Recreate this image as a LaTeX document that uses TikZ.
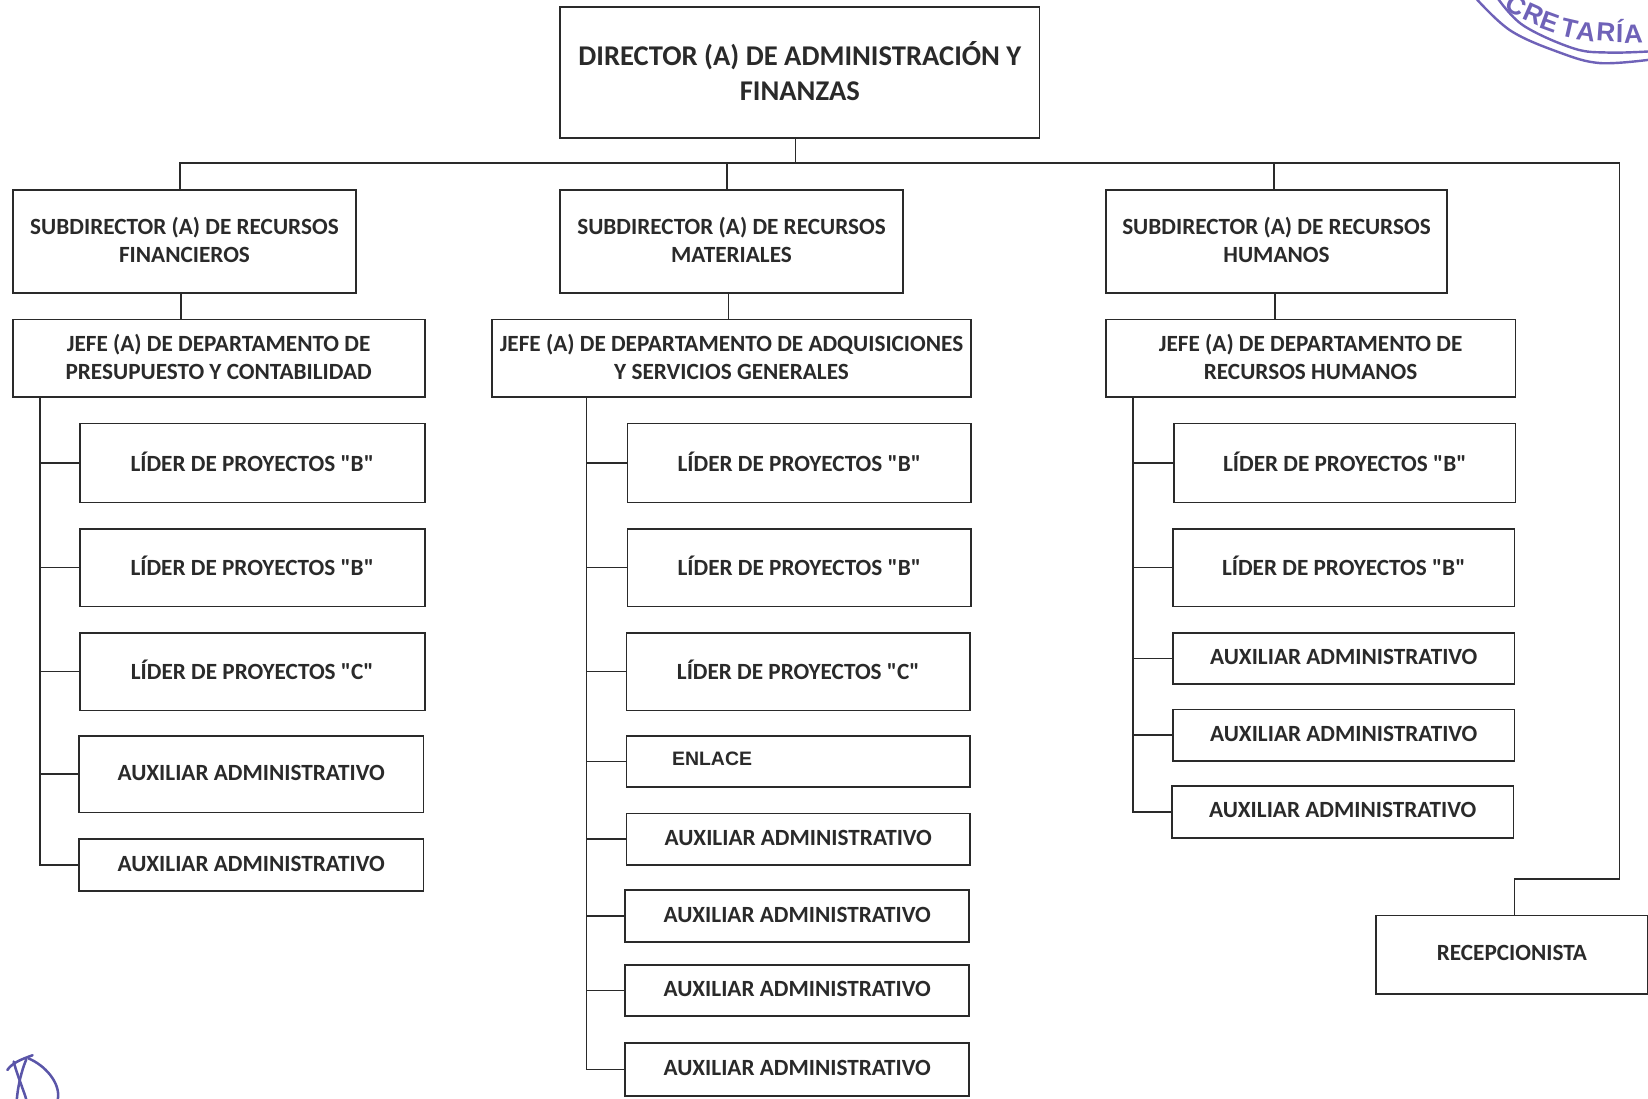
\documentclass[tikz,border=0pt]{standalone}
\usepackage{fontspec}
\newfontfamily\carl{Carlito}
\newfontfamily\arialf{Liberation Sans}
\definecolor{ink}{HTML}{2A2A2A}
\definecolor{stamp}{HTML}{6F62B8}
\definecolor{sign}{HTML}{5A55A8}
\newcommand{\bx}[6][]{% name x1 y1 x2 y2 text
  \node[orgbox,minimum width={(#5-#3)*1pt},minimum height={(#6-#4)*1pt},#1] (#2) at ({(#3+#5)/2},{(#4+#6)/2}) {\CurText};}
\newcommand{\CurText}{}
\newcommand{\mk}[7][]{\renewcommand{\CurText}{#7}\bx[#1]{#2}{#3}{#4}{#5}{#6}}
\tikzset{
  orgbox/.style={draw=ink,line width=1.7pt,fill=white,text=ink,align=center,inner sep=0pt,text depth=3pt,font=\fontsize{22.1}{27}\selectfont\carl\bfseries},
  topbox/.style={font=\fontsize{27.2}{33}\selectfont\carl\bfseries},
  link/.style={draw=ink,line width=1.6pt},
  stampline/.style={draw=stamp,line width=2.3pt},
  signline/.style={draw=sign,line width=2.4pt,line cap=round}
}
\begin{document}
\begin{tikzpicture}[x=1pt,y=-1pt]
\useasboundingbox (0,0) rectangle (1568,1045);
\clip (0,0) rectangle (1568,1045);
% top
\mk[topbox]{dir}{533}{7}{989}{131}{DIRECTOR (A) DE ADMINISTRACIÓN Y\\FINANZAS}
% subdirectors
\mk{s1}{12}{181}{339}{279}{SUBDIRECTOR (A) DE RECURSOS\\FINANCIEROS}
\mk{s2}{533}{181}{859}{279}{SUBDIRECTOR (A) DE RECURSOS\\MATERIALES}
\mk{s3}{1052}{181}{1377}{279}{SUBDIRECTOR (A) DE RECURSOS\\HUMANOS}
% jefes
\mk{j1}{12}{304}{404}{378}{JEFE (A) DE DEPARTAMENTO DE\\PRESUPUESTO Y CONTABILIDAD}
\mk{j2}{468}{304}{924}{378}{JEFE (A) DE DEPARTAMENTO DE ADQUISICIONES\\Y SERVICIOS GENERALES}
\mk{j3}{1052}{304}{1442}{378}{JEFE (A) DE DEPARTAMENTO DE\\RECURSOS HUMANOS}
% column 1
\mk{a1}{76}{403}{404}{478}{LÍDER DE PROYECTOS "B"}
\mk{a2}{76}{503}{404}{577}{LÍDER DE PROYECTOS "B"}
\mk{a3}{76}{602}{404}{676}{LÍDER DE PROYECTOS "C"}
\mk{a4}{75}{700}{403}{773}{AUXILIAR ADMINISTRATIVO}
\mk{a5}{75}{798}{403}{848}{AUXILIAR ADMINISTRATIVO}
% column 2
\mk{b1}{597}{403}{924}{478}{LÍDER DE PROYECTOS "B"}
\mk{b2}{597}{503}{924}{577}{LÍDER DE PROYECTOS "B"}
\mk{b3}{596}{602}{923}{676}{LÍDER DE PROYECTOS "C"}
\node[orgbox,minimum width=327pt,minimum height=49pt,label={[font=\fontsize{18.5}{22}\selectfont\bfseries\arialf,text=ink,xshift=-82pt,yshift=3pt]center:ENLACE}] (b4) at (759.5,724.5) {};
\mk{b5}{596}{774}{923}{823}{AUXILIAR ADMINISTRATIVO}
\mk{b6}{595}{847}{922}{896}{AUXILIAR ADMINISTRATIVO}
\mk{b7}{595}{918}{922}{967}{AUXILIAR ADMINISTRATIVO}
\mk{b8}{595}{992}{922}{1043}{AUXILIAR ADMINISTRATIVO}
% column 3
\mk{c1}{1117}{403}{1442}{478}{LÍDER DE PROYECTOS "B"}
\mk{c2}{1116}{503}{1441}{577}{LÍDER DE PROYECTOS "B"}
\mk{c3}{1116}{602}{1441}{651}{AUXILIAR ADMINISTRATIVO}
\mk{c4}{1116}{675}{1441}{724}{AUXILIAR ADMINISTRATIVO}
\mk{c5}{1115}{748}{1440}{797}{AUXILIAR ADMINISTRATIVO}
\mk{r}{1309}{871}{1568}{946}{RECEPCIONISTA}
% bus
\coordinate (busL) at (171,155);
\coordinate (busR) at (1541,155);
\coordinate (busD) at (1541,836);
\draw[link] (dir.south -| 757,0) -- (757,155);
\draw[link] (s1.north -| busL) -- (busL) -- (busR) -- (busD) -| (r.north -| 1441,0);
\draw[link] (s2.north -| 692,0) -- (692,155);
\draw[link] (s3.north -| 1212,0) -- (1212,155);
% sub to jefe
\draw[link] (s1.south -| 172,0) -- (j1.north -| 172,0);
\draw[link] (s2.south -| 693,0) -- (j2.north -| 693,0);
\draw[link] (s3.south -| 1213,0) -- (j3.north -| 1213,0);
% trunks
\coordinate (t1) at (38,378);
\coordinate (t2) at (558,378);
\coordinate (t3) at (1078,378);
\draw[link] (t1) |- (a5.west);
\foreach \n in {a1,a2,a3,a4} \draw[link] (t1 |- \n.west) -- (\n.west);
\draw[link] (t2) |- (b8.west);
\foreach \n in {b1,b2,b3,b4,b5,b6,b7} \draw[link] (t2 |- \n.west) -- (\n.west);
\draw[link] (t3) |- (c5.west);
\foreach \n in {c1,c2,c3,c4} \draw[link] (t3 |- \n.west) -- (\n.west);
% stamp
\draw[stampline] plot[smooth,tension=0.6] coordinates {(1403,-3) (1437,29) (1484,50) (1522,60) (1568,57)};
\draw[stampline] plot[smooth,tension=0.6] coordinates {(1424,-3) (1449,24) (1497,46) (1530,50) (1568,49)};
\foreach \c/\x/\y/\a in {C/1443/5/30,R/1459/13/24,E/1475/21/20,T/1493/27/13,A/1509/30/8,R/1528/31/4,Í/1541/29/1,A/1554/32/-2}
  \node[text=stamp,font=\fontsize{25}{25}\selectfont\bfseries\arialf,inner sep=0pt,rotate=-\a] at (\x,\y) {\c};
% signature
\draw[signline] (7,1018) .. controls (12,1011) and (20,1008) .. (31,1004);
\draw[signline] (13,1010) .. controls (16,1022) and (22,1036) .. (25,1046);
\draw[signline] (25,1008) .. controls (20,1020) and (17,1034) .. (16,1046);
\draw[signline] (27,1007) .. controls (42,1013) and (58,1030) .. (55,1046);
\end{tikzpicture}
\end{document}
